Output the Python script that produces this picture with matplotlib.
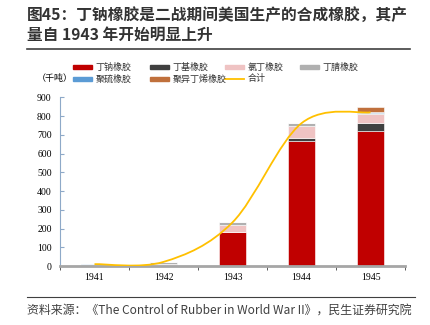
import numpy as np
import matplotlib
matplotlib.use("Agg")
import matplotlib.pyplot as plt
from matplotlib.path import Path
from matplotlib.patches import PathPatch, Rectangle
from matplotlib.lines import Line2D

plt.rcParams['font.family'] = ['Noto Sans CJK SC', 'DejaVu Sans']

# data (千吨)
years = ['1941', '1942', '1943', '1944', '1945']
gr_s = [1, 4, 182, 668, 719]        # 丁钠橡胶
butyl = [0, 0, 1, 16, 45]           # 丁基橡胶
neoprene = [2, 9, 35, 63, 48]       # 氯丁橡胶
nitrile = [4, 8, 16, 16, 4]         # 丁腈橡胶
thiokol = [2, 0, 0, 0, 8]           # 聚硫橡胶
polyiso = [0, 0, 0, 0, 22]          # 聚异丁烯橡胶
total = [10, 22, 233, 762, 820]     # 合计

series = [
    ('丁钠橡胶', gr_s, '#C00000'),
    ('丁基橡胶', butyl, '#404040'),
    ('氯丁橡胶', neoprene, '#EFC3C3'),
    ('丁腈橡胶', nitrile, '#B0B0B0'),
    ('聚硫橡胶', thiokol, '#5B9BD5'),
    ('聚异丁烯橡胶', polyiso, '#C0703C'),
]
line_color = '#FFC000'

fig = plt.figure(figsize=(4.3, 3.25), dpi=100)
ax = fig.add_axes([0.1395, 0.1815, 0.8025, 0.519])

x = np.arange(len(years))
bottom = np.zeros(len(years))
for name, vals, col in series:
    ax.bar(x, vals, width=0.4, bottom=bottom, color=col,
           edgecolor='white', linewidth=0.4, zorder=2)
    bottom += np.array(vals)

# smoothed total line (Excel-like smoothing via cubic bezier)
pts = np.column_stack([x, total]).astype(float)
ext = np.vstack([pts[0], pts, pts[-1]])
verts = [tuple(pts[0])]
codes = [Path.MOVETO]
for i in range(len(pts) - 1):
    p0, p1, p2, p3 = ext[i], ext[i + 1], ext[i + 2], ext[i + 3]
    c1 = p1 + (p2 - p0) / 6
    c2 = p2 - (p3 - p1) / 6
    verts += [tuple(c1), tuple(c2), tuple(p2)]
    codes += [Path.CURVE4] * 3
ax.add_patch(PathPatch(Path(verts, codes), facecolor='none',
                       edgecolor=line_color, lw=1.3, zorder=3))

ax.set_xlim(-0.5, 4.5)
ax.set_ylim(0, 900)
ax.set_yticks(range(0, 901, 100))
ax.set_xticks(x)
ax.set_xticklabels(years)
for lab in ax.get_xticklabels() + ax.get_yticklabels():
    lab.set_fontfamily('Liberation Serif')
    lab.set_fontsize(7)
ax.tick_params(axis='x', length=0, pad=5)
ax.tick_params(axis='y', length=3, direction='in', color='#8EA9C8', pad=6)
ax.set_xticks(np.arange(-0.5, 4.6, 1), minor=True)
ax.tick_params(axis='x', which='minor', length=3, color='#404040', direction='out')

for s in ['top', 'right']:
    ax.spines[s].set_visible(False)
ax.spines['left'].set_color('#8EA9C8')
ax.spines['left'].set_linewidth(0.8)
ax.spines['bottom'].set_color('#A6A6A6')
ax.spines['bottom'].set_linewidth(2)

# legend laid out on a fixed grid like the original (label may overflow its cell)
col_x = [0.170, 0.349, 0.523, 0.698]
row_y = [0.794, 0.757]
items = [(n, c, 'bar') for n, _, c in series] + [('合计', line_color, 'line')]
hw, hh = 0.044, 0.011
for k, (name, col, kind) in enumerate(items):
    cx, cy = col_x[k % 4], row_y[k // 4]
    if kind == 'bar':
        fig.add_artist(Rectangle((cx, cy - hh / 2), hw, hh, color=col,
                                 transform=fig.transFigure))
    else:
        fig.add_artist(Line2D([cx, cx + hw], [cy, cy], color=col, lw=1.3))
    fig.text(cx + hw + 0.008, cy, name, fontsize=6.5, color='#333333',
             ha='left', va='center')

fig.text(0.085, 0.757, '（千吨）', fontsize=6.5, ha='left', va='center')

# title and source
fig.text(0.063, 0.953, '图45：丁钠橡胶是二战期间美国生产的合成橡胶，其产',
         fontsize=11.3, fontweight='bold', color='#333333', ha='left', va='center')
fig.text(0.063, 0.893, '量自 1943 年开始明显上升',
         fontsize=11.3, fontweight='bold', color='#333333', ha='left', va='center')
fig.add_artist(Line2D([0.063, 0.953], [0.849, 0.849], color='#404040', lw=1.2))
fig.add_artist(Line2D([0.063, 0.965], [0.086, 0.086], color='#404040', lw=0.8))
fig.text(0.063, 0.047, '资料来源：《The Control of Rubber in World War II》，民生证券研究院',
         fontsize=8.6, color='#404040', ha='left', va='center')

fig.savefig('out.png', dpi=100)
